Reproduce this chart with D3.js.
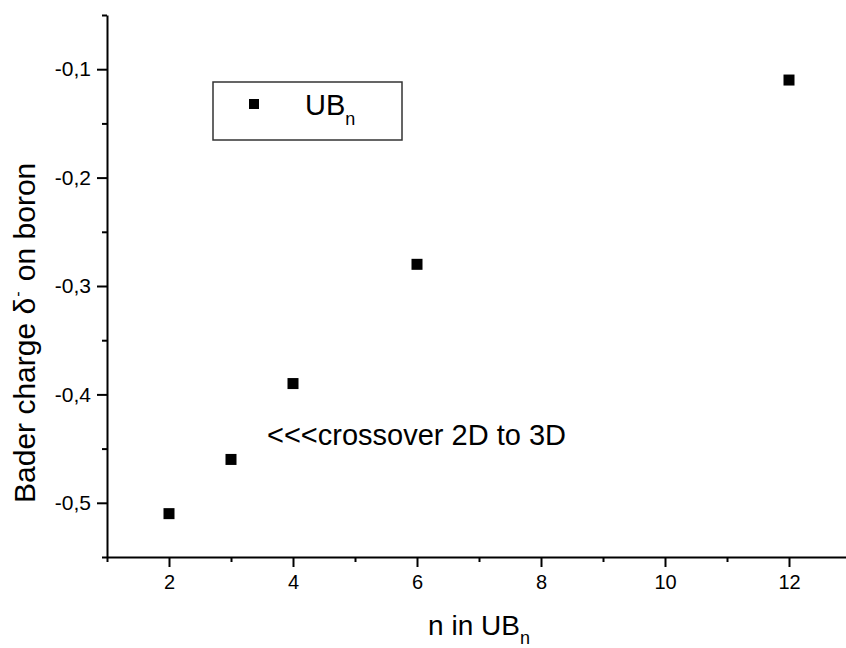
<!DOCTYPE html>
<html>
<head>
<meta charset="UTF-8">
<title>Bader charge on boron</title>
<script src="https://cdn.jsdelivr.net/npm/d3@7"></script>
<style>
  body { margin: 0; background: #fff; }
  svg { display: block; font-family: "Liberation Sans", Arial, sans-serif; }
  .axis path, .axis line { stroke: #000; stroke-width: 2; }
  .axis text { fill: #000; font-size: 20px; font-family: "Liberation Sans", Arial, sans-serif; }
</style>
</head>
<body>
<svg width="846" height="648"></svg>
<script>
// data
var nValues = [2, 3, 4, 6, 12];
var charges = [-0.51, -0.46, -0.39, -0.28, -0.11];

var xTicks = [2, 4, 6, 8, 10, 12];
var xMinor = [1, 3, 5, 7, 9, 11, 13];
var yTicks = [-0.5, -0.4, -0.3, -0.2, -0.1];
var yMinor = [-0.55, -0.45, -0.35, -0.25, -0.15, -0.05];

var svg = d3.select("svg");

// plot frame
var x = d3.scaleLinear().domain([1, 13]).range([107, 851]);
var y = d3.scaleLinear().domain([-0.55, -0.05]).range([557, 15]);

var loc = d3.formatLocale({decimal: ",", thousands: ".", grouping: [3], currency: ["", ""], minus: "-"});
var fmt = loc.format(".1f");

// y axis
var gy = svg.append("g").attr("class", "axis")
  .attr("transform", "translate(" + x(1) + ",0)")
  .call(d3.axisLeft(y).tickValues(yTicks).tickSize(10).tickSizeOuter(0).tickPadding(6).tickFormat(fmt));
gy.selectAll("text").style("font-size", "21px");
svg.append("g").attr("class", "axis")
  .attr("transform", "translate(" + x(1) + ",0)")
  .call(d3.axisLeft(y).tickValues(yMinor).tickSize(5).tickFormat(""))
  .select(".domain").remove();

// x axis
var gx = svg.append("g").attr("class", "axis")
  .attr("transform", "translate(0," + y(-0.55) + ")")
  .call(d3.axisBottom(x).tickValues(xTicks).tickSize(10).tickSizeOuter(0).tickPadding(8));
gx.selectAll("text").style("font-size", "20px");
svg.append("g").attr("class", "axis")
  .attr("transform", "translate(0," + y(-0.55) + ")")
  .call(d3.axisBottom(x).tickValues(xMinor).tickSize(5).tickFormat(""))
  .select(".domain").remove();

// points
var s = 11;
svg.append("g").selectAll("rect")
  .data(nValues)
  .enter().append("rect")
  .attr("x", function(d) { return x(d) - s / 2; })
  .attr("y", function(d, i) { return y(charges[i]) - s / 2; })
  .attr("width", s).attr("height", s)
  .attr("fill", "#000");

// axis titles
var xt = svg.append("text")
  .attr("x", (x(1) + x(13)) / 2).attr("y", 635)
  .attr("text-anchor", "middle")
  .style("font-size", "28px");
xt.append("tspan").text("n in UB");
xt.append("tspan").attr("dy", 9).style("font-size", "18px").text("n");

var yt = svg.append("text")
  .attr("transform", "translate(35,503) rotate(-90)")
  .attr("text-anchor", "start")
  .style("font-size", "30px");
yt.append("tspan").text("Bader charge \u03b4");
yt.append("tspan").attr("dy", -12).attr("dx", 1).style("font-size", "16px").text("-");
yt.append("tspan").attr("dy", 12).attr("dx", 2).text(" on boron");

// legend
svg.append("rect")
  .attr("x", 213).attr("y", 82).attr("width", 189).attr("height", 58)
  .attr("fill", "none").attr("stroke", "#333").attr("stroke-width", 1.5);
svg.append("rect")
  .attr("x", 254 - 5).attr("y", 104 - 5).attr("width", 10).attr("height", 10)
  .attr("fill", "#000");
var lt = svg.append("text").attr("x", 305).attr("y", 115).style("font-size", "29px");
lt.append("tspan").text("UB");
lt.append("tspan").attr("dy", 10).style("font-size", "18px").text("n");

// annotation
svg.append("text")
  .attr("x", 267).attr("y", 445)
  .style("font-size", "29px")
  .text("<<<crossover 2D to 3D");
</script>
</body>
</html>
